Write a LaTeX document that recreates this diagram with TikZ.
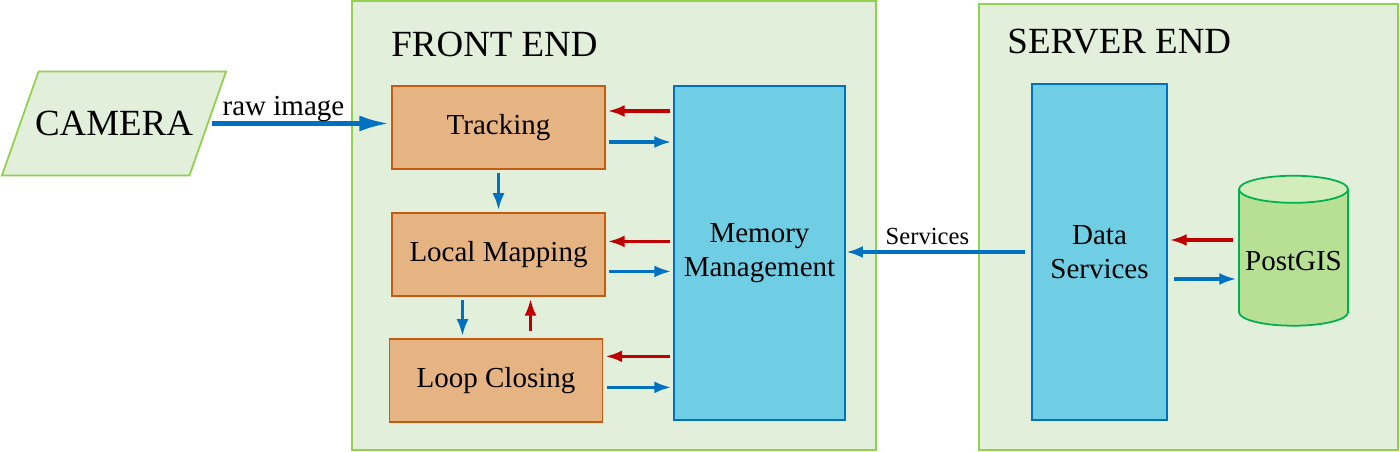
\documentclass[tikz,border=0pt]{standalone}
\usepackage{fontspec}
\setmainfont{Liberation Serif}
\usetikzlibrary{
  arrows.meta,
  calc,
  positioning,
  shapes.geometric,
}
\definecolor{panelfill}{RGB}{226,239,218}
\definecolor{panelline}{RGB}{146,208,80}
\definecolor{modfill}{RGB}{230,180,131}
\definecolor{modline}{RGB}{197,90,17}
\definecolor{srvfill}{RGB}{112,206,228}
\definecolor{srvline}{RGB}{0,112,192}
\definecolor{flowblue}{RGB}{0,112,192}
\definecolor{flowred}{RGB}{192,0,0}
\definecolor{dbbody}{RGB}{184,224,148}
\definecolor{dbend}{RGB}{210,236,186}
\definecolor{dbline}{RGB}{0,176,80}
\tikzstyle{panel} = [
  draw=panelline,
  fill=panelfill,
  line width=1pt,
  inner sep=0pt,
]
\tikzstyle{module} = [
  draw=modline,
  fill=modfill,
  line width=1.1pt,
  minimum width=4.26cm,
  minimum height=1.66cm,
]
\tikzstyle{service} = [
  draw=srvline,
  fill=srvfill,
  line width=1.1pt,
  align=center,
]
\tikzstyle{fwdarrow} = [
  -{Latex[length=0.34cm, width=0.24cm]},
  line width=1.8pt,
  flowblue,
  shorten <=2pt,
  shorten >=1pt,
  text=black,
]
\tikzstyle{backarrow} = [
  fwdarrow,
  flowred,
]

\begin{document}
\begin{tikzpicture}[
      font=\fontsize{16.5}{19}\selectfont,
      title/.style={font=\fontsize{21}{24}\selectfont, anchor=west, inner sep=0pt},
    ]
      \useasboundingbox (0,0) rectangle (28,9.04);
      \node [panel, minimum width=10.48cm, minimum height=8.98cm] (frontend) at (12.28,4.53) {};
      \node [panel, minimum width=8.38cm, minimum height=8.92cm] (serverend) at (23.77,4.50) {};
      \node [title] at ([xshift=0.8cm, yshift=-0.88cm]frontend.north west) {FRONT END};
      \node [title] at ([xshift=0.58cm, yshift=-0.76cm]serverend.north west) {SERVER END};
      \node [trapezium, trapezium left angle=70.6, trapezium right angle=109.4,
             draw=panelline, fill=panelfill, line width=1pt, inner xsep=-2pt, inner ysep=22.6pt,
             font=\fontsize{21}{24}\selectfont] (camera) at (2.28,6.57) {CAMERA};
      \node [module] (tracking) at (9.97,6.49) {Tracking};
      \node [module, below=0.84cm of tracking] (localmap) {Local Mapping};
      \node [module, below=0.82cm of localmap, xshift=-0.05cm] (loopclose) {Loop Closing};
      \node [service, minimum width=3.42cm, minimum height=6.68cm] (memory) at (15.19,3.98) {Memory\\Management};
      \node [service, minimum width=2.7cm, minimum height=6.72cm] (data) at (21.99,4.0) {Data\\Services};
      \node [cylinder, shape border rotate=90, aspect=0.25, draw=dbline, line width=1pt,
             cylinder uses custom fill, cylinder body fill=dbbody, cylinder end fill=dbend,
             minimum width=2.18cm, minimum height=3.0cm] (postgis) at (25.87,3.82) {PostGIS};
      \draw [fwdarrow, line width=2.4pt, -{Latex[length=0.6cm, width=0.32cm]}] (camera.east) -- (tracking.west |- camera.east)
            node [above, pos=0.41, inner sep=0pt] {raw image};
      \draw [fwdarrow] (tracking.south) -- (localmap.north);
      \draw [fwdarrow] ([xshift=-0.72cm]localmap.south) -- ([xshift=-0.72cm]localmap.south |- loopclose.north);
      \draw [backarrow, shorten <=4pt] ([xshift=0.64cm]localmap.south |- loopclose.north) -- ([xshift=0.64cm]localmap.south);
      \foreach \m/\up/\dn in {tracking/0.33/0.29, localmap/0.26/0.34, loopclose/0.48/0.14} {
        \draw [backarrow] ([yshift=\up cm]memory.west |- \m.east) -- ([yshift=\up cm]\m.east);
        \draw [fwdarrow] ([yshift=-\dn cm]\m.east) -- ([yshift=-\dn cm]memory.west |- \m.east);
      }
      \draw [fwdarrow, line width=2pt, shorten <=0.12cm, shorten >=0pt] (data.west) -- (memory.east |- data.west)
            node [above, pos=0.56, font=\fontsize{14}{16}\selectfont] {Services};
      \draw [backarrow, shorten <=0.1cm] ([yshift=0.24cm]postgis.west |- data.east) -- ([yshift=0.24cm]data.east);
      \draw [fwdarrow, shorten <=0.13cm] ([yshift=-0.54cm]data.east) -- ([yshift=-0.54cm]postgis.west |- data.east);
    \end{tikzpicture}
\end{document}
